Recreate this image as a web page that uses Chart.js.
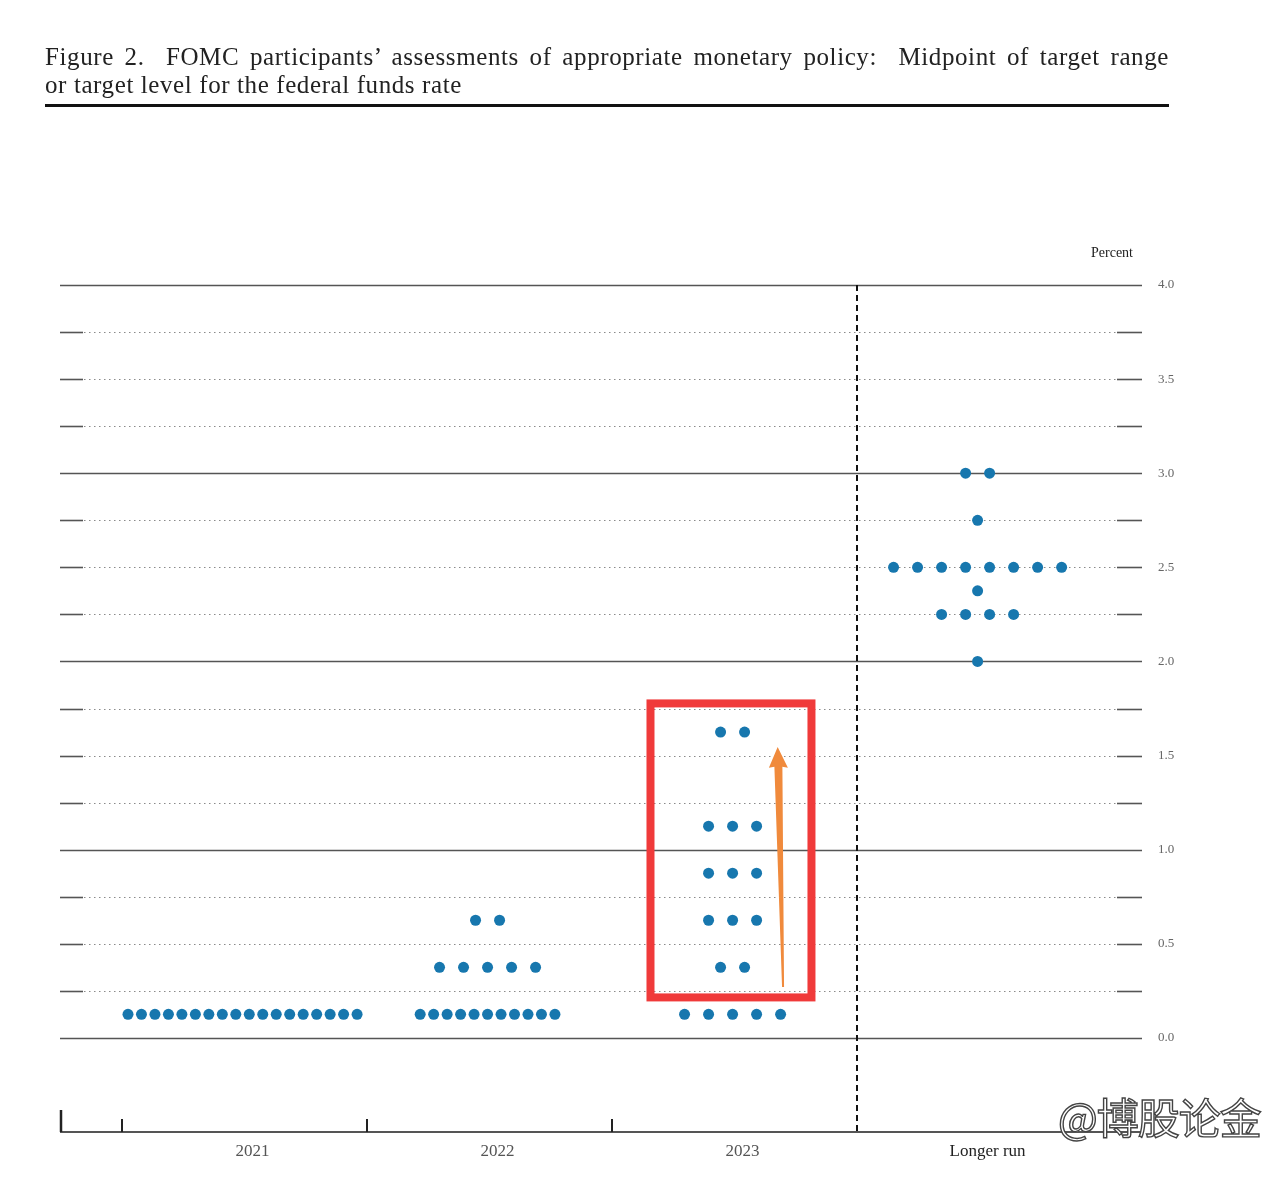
<!DOCTYPE html>
<html>
<head>
<meta charset="utf-8">
<script src="https://cdn.jsdelivr.net/npm/chart.js@4/dist/chart.umd.min.js"></script>
<style>
  html, body { margin: 0; padding: 0; background: #fff; }
  #wrap { position: relative; width: 1280px; height: 1181px; overflow: hidden; }
  #graph { position: absolute; left: 0; top: 0; }
  .titre {
    position: absolute; left: 45px; width: 1124px; white-space: nowrap;
    font-family: "Liberation Serif", serif; font-size: 25px; line-height: 28px;
    letter-spacing: 0.6px; color: #222;
  }
  #titre1 { top: 43px; text-align: justify; text-align-last: justify; white-space: normal; }
  #titre2 { top: 71px; }
  #regle { position: absolute; left: 45px; top: 104px; width: 1124px; height: 3px; background: #111; }
  #percent {
    position: absolute; left: 1091px; top: 245px;
    font-family: "Liberation Serif", serif; font-size: 14px; color: #222;
  }
  #filigrane {
    position: absolute; left: 1058px; top: 1085px;
    font-family: "Noto Sans CJK SC", sans-serif; font-size: 42px; color: #fff;
    -webkit-text-stroke: 1.4px #444; letter-spacing: -1px;
  }
</style>
</head>
<body>
<div id="wrap">
  <canvas id="graph" width="1280" height="1181"></canvas>
  <div class="titre" id="titre1">Figure 2.&nbsp; FOMC participants’ assessments of appropriate monetary policy:&nbsp; Midpoint of target range</div>
  <div class="titre" id="titre2">or target level for the federal funds rate</div>
  <div id="regle"></div>
  <div id="percent">Percent</div>
  <div id="filigrane">@博股论金</div>
</div>
<script>
// Catégories (axe x) et centres des groupes
const groupLabels = ['2021', '2022', '2023', 'Longer run'];
const groupCenters = [0.5, 1.5, 2.5, 3.5];

// Projections : niveau du taux et nombre de participants à ce niveau
const rates2021 = [0.125];
const counts2021 = [18];
const rates2022 = [0.125, 0.375, 0.625];
const counts2022 = [11, 5, 2];
const rates2023 = [0.125, 0.375, 0.625, 0.875, 1.125, 1.625];
const counts2023 = [5, 2, 3, 3, 3, 2];
const ratesLong = [2.0, 2.25, 2.375, 2.5, 2.75, 3.0];
const countsLong = [1, 4, 1, 8, 1, 2];

// Graduations de l'axe des taux
const gridLevels = [0, 0.25, 0.5, 0.75, 1, 1.25, 1.5, 1.75, 2, 2.25, 2.5, 2.75, 3, 3.25, 3.5, 3.75, 4];

const groupes = [
    { rates: rates2021, counts: counts2021 },
    { rates: rates2022, counts: counts2022 },
    { rates: rates2023, counts: counts2023 },
    { rates: ratesLong, counts: countsLong }
];

// Construction des points : les participants d'un même niveau sont alignés côte à côte
const points = [];
groupes.forEach((g, gi) => {
    g.rates.forEach((r, ri) => {
        const n = g.counts[ri];
        const pas = n > 8 ? 0.055 : 0.098;
        for (let i = 0; i < n; i++) {
            points.push({ x: groupCenters[gi] - 0.008 + (i - (n - 1) / 2) * pas, y: r });
        }
    });
});

// Quadrillage, séparateurs et annotations dessinés via les échelles
const grillePlugin = {
    id: 'grille',
    beforeDatasetsDraw(chart) {
        const { ctx, chartArea: a, scales: { x, y } } = chart;
        ctx.save();
        gridLevels.forEach(v => {
            const py = Math.round(y.getPixelForValue(v)) + 0.5;
            if (Number.isInteger(v)) {
                ctx.strokeStyle = '#555';
                ctx.lineWidth = 1.6;
                ctx.setLineDash([]);
                ctx.beginPath(); ctx.moveTo(a.left, py); ctx.lineTo(a.right, py); ctx.stroke();
            } else {
                ctx.strokeStyle = '#8a8a8a';
                ctx.lineWidth = 1.2;
                ctx.setLineDash([1.5, 3.5]);
                ctx.beginPath(); ctx.moveTo(a.left + 24, py); ctx.lineTo(a.right - 25, py); ctx.stroke();
                ctx.setLineDash([]);
                ctx.strokeStyle = '#555';
                ctx.lineWidth = 1.6;
                ctx.beginPath(); ctx.moveTo(a.left, py); ctx.lineTo(a.left + 23, py); ctx.stroke();
                ctx.beginPath(); ctx.moveTo(a.right - 25, py); ctx.lineTo(a.right, py); ctx.stroke();
            }
        });

        // Axe du bas et graduations
        ctx.setLineDash([]);
        ctx.strokeStyle = '#555';
        ctx.lineWidth = 2;
        ctx.beginPath(); ctx.moveTo(a.left, a.bottom); ctx.lineTo(a.right, a.bottom); ctx.stroke();
        ctx.strokeStyle = '#222';
        ctx.lineWidth = 2.5;
        ctx.beginPath(); ctx.moveTo(a.left + 1, a.bottom); ctx.lineTo(a.left + 1, a.bottom - 22); ctx.stroke();
        ctx.lineWidth = 2;
        [0, 1, 2].forEach(v => {
            const px = Math.round(x.getPixelForValue(v));
            ctx.beginPath(); ctx.moveTo(px, a.bottom); ctx.lineTo(px, a.bottom - 13); ctx.stroke();
        });

        // Séparation "Longer run"
        const sx = Math.round(x.getPixelForValue(3));
        ctx.strokeStyle = '#111';
        ctx.lineWidth = 2;
        ctx.setLineDash([6, 4]);
        ctx.beginPath(); ctx.moveTo(sx, a.top); ctx.lineTo(sx, a.bottom); ctx.stroke();
        ctx.restore();
    },
    afterDatasetsDraw(chart) {
        const { ctx, scales: { x, y } } = chart;
        ctx.save();
        // Cadre rouge autour de 2023
        ctx.strokeStyle = '#f03a3a';
        ctx.lineWidth = 8;
        const x1 = x.getPixelForValue(2.157), x2 = x.getPixelForValue(2.814);
        const y1 = y.getPixelForValue(1.777), y2 = y.getPixelForValue(0.215);
        ctx.strokeRect(x1, y1, x2 - x1, y2 - y1);

        // Flèche orange
        const bx = x.getPixelForValue(2.698), by = y.getPixelForValue(0.271);
        const hx = x.getPixelForValue(2.679), hy = y.getPixelForValue(1.44);
        const tx = x.getPixelForValue(2.676), ty = y.getPixelForValue(1.546);
        ctx.fillStyle = '#f08a3c';
        ctx.beginPath();
        ctx.moveTo(bx - 1, by);
        ctx.lineTo(bx + 1, by);
        ctx.lineTo(hx + 4, hy);
        ctx.lineTo(hx + 9.5, hy + 1);
        ctx.lineTo(tx, ty);
        ctx.lineTo(hx - 9.5, hy + 1);
        ctx.lineTo(hx - 4, hy);
        ctx.closePath();
        ctx.fill();
        ctx.restore();
    }
};

new Chart(document.getElementById('graph'), {
    type: 'scatter',
    data: {
        datasets: [{
            data: points,
            backgroundColor: '#1777ae',
            borderWidth: 0,
            pointRadius: 5.5,
            pointHoverRadius: 5.5
        }]
    },
    options: {
        responsive: false,
        animation: false,
        devicePixelRatio: 1,
        layout: { padding: { top: 285, left: 60, right: 0, bottom: 0 } },
        plugins: { legend: { display: false }, tooltip: { enabled: false } },
        scales: {
            x: {
                type: 'linear',
                position: 'bottom',
                min: -0.253,
                max: 4.163,
                grid: { display: false, drawTicks: false },
                border: { display: false },
                afterBuildTicks: (s) => { s.ticks = groupCenters.map(v => ({ value: v })); },
                afterFit: (s) => { s.height = 49; },
                ticks: {
                    autoSkip: false,
                    maxRotation: 0,
                    padding: 9,
                    labelOffset: 8,
                    font: { family: 'Liberation Serif', size: 17 },
                    color: (c) => c.index === 3 ? '#222' : '#555',
                    callback: (v, i) => groupLabels[i]
                }
            },
            y: {
                type: 'linear',
                position: 'right',
                min: -0.5,
                max: 4,
                grid: { display: false, drawTicks: false },
                border: { display: false },
                afterBuildTicks: (s) => { s.ticks = gridLevels.map(v => ({ value: v })); },
                afterFit: (s) => { s.width = 138; },
                ticks: {
                    autoSkip: false,
                    padding: 16,
                    font: { family: 'Liberation Serif', size: 13 },
                    color: '#666',
                    callback: (v) => (v * 2) % 1 === 0 ? v.toFixed(1) : ''
                }
            }
        }
    },
    plugins: [grillePlugin]
});
</script>
</body>
</html>
